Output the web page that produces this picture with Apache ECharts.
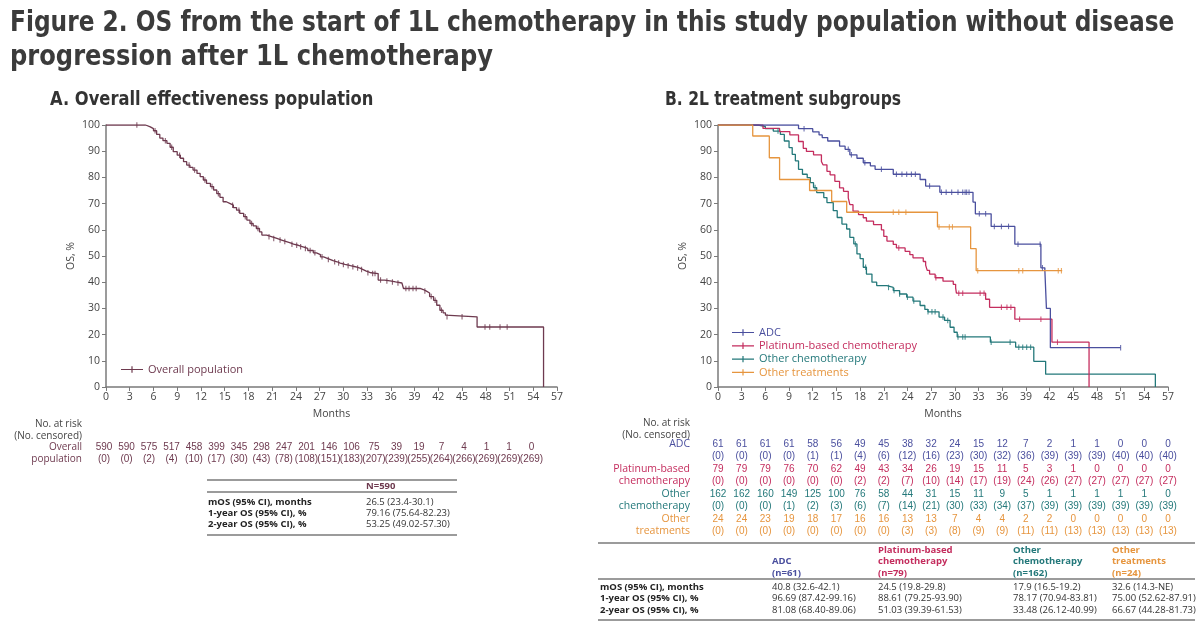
<!DOCTYPE html>
<html><head><meta charset="utf-8">
<script src="https://cdn.jsdelivr.net/npm/echarts@6/dist/echarts.min.js"></script>
<style>html,body{margin:0;padding:0;background:#fff}#c{width:1200px;height:637px}</style>
</head><body><div id="c"></div>
<script>
// ---------- DATA ----------
const monthTicks = [0,3,6,9,12,15,18,21,24,27,30,33,36,39,42,45,48,51,54,57];

// Overall population KM [month, OS%]
const overallKM = [[0,100],[5.0,99.3],[5.6,98.6],[6.0,97.8],[6.4,96.4],[6.8,95],[7.2,94],[7.7,93],[8.1,91.5],[8.5,89.8],[9.0,88.5],[9.4,87.3],[9.8,86],[10.2,84.7],[10.6,83.8],[11.0,82.8],[11.5,81.5],[11.9,80.3],[12.3,79],[12.7,77.7],[13.2,76.5],[13.6,75.2],[14.0,73.8],[14.4,72.4],[14.8,70.7],[15.2,70],[15.7,69.4],[16.1,68.5],[16.5,67.5],[16.9,66.3],[17.4,65],[17.8,63.7],[18.2,62.4],[18.6,61.5],[19.0,60.5],[19.4,59.2],[19.7,58],[20.3,57.3],[21.0,56.7],[21.6,56.1],[22.2,55.5],[22.8,55],[23.3,54.5],[23.7,54.1],[24.3,53.5],[24.9,52.9],[25.5,52.1],[26.2,51.2],[26.6,50.5],[27.1,49.7],[27.5,49.2],[27.9,48.7],[28.3,48.2],[28.7,47.8],[29.2,47.3],[29.6,46.8],[30.2,46.3],[30.9,45.9],[31.5,45.4],[32.1,44.8],[32.5,44.2],[32.9,43.6],[33.5,43.3],[34.4,40.8],[35.2,40.5],[35.9,40.1],[36.6,39.7],[37.4,39.2],[37.6,37.6],[39.7,37.2],[40.1,36.6],[40.5,35.9],[40.9,34.5],[41.4,33.1],[41.8,31.2],[42.2,29.3],[42.6,28.3],[42.9,27.4],[43.1,26.8],[46.9,22.9],[55.3,0]];
const overallCens = [3.9,6.2,7.5,8.3,9.3,10.5,11.2,12.5,13.4,14.2,16.0,16.8,17.6,18.4,19.2,20.6,21.2,22.0,22.6,23.5,24.1,24.6,25.2,25.8,26.4,27.3,28.1,28.9,29.4,30.0,30.6,31.2,31.8,32.3,33.1,33.7,34.0,34.7,35.5,36.2,36.9,37.9,38.3,38.8,39.2,40.3,41.1,41.6,42.4,43.1,45.0,47.9,48.5,49.8,50.7];

const adcKM = [[0,100],[10.2,98.6],[12.0,97.4],[12.8,96.2],[13.2,95.2],[13.9,93.9],[15.4,91.9],[16.1,90.7],[16.7,88.6],[17.6,87.3],[18.4,85.6],[19.3,84.4],[19.9,83.1],[22.2,81.2],[25.6,79.2],[26.3,76.7],[28.1,74.3],[32.3,70.6],[32.6,66.1],[34.6,61.3],[37.6,54.5],[40.9,45.5],[41.4,44.7],[41.6,30.0],[42.1,15.0],[51.0,15.0]];
const adcCens = [10.9,16.5,16.9,18.6,20.7,22.6,23.3,23.9,24.5,25.0,26.8,28.3,28.9,29.6,30.4,31.0,31.3,31.5,31.8,33.1,33.9,35.0,35.9,36.8,38.0,40.8,41.1,51.0];

const platKM = [[0,100],[5.7,98.7],[7.8,97.5],[9.1,96.2],[10.2,93.7],[10.8,91.1],[11.2,89.9],[12.1,88.6],[13.1,86.1],[13.3,84.8],[13.8,82.3],[14.2,81.0],[14.8,78.5],[15.4,76.0],[15.9,74.7],[16.5,72.2],[16.7,69.6],[17.1,67.1],[17.8,65.8],[18.4,64.6],[18.8,63.3],[19.7,62.0],[20.7,60.0],[21.0,57.5],[21.4,55.7],[22.2,54.4],[22.6,53.1],[23.7,51.8],[24.3,50.5],[24.7,49.3],[26.0,47.9],[26.3,46.5],[26.5,44.5],[26.8,43.1],[27.5,41.7],[28.5,40.4],[29.8,39.2],[30.1,37.8],[30.2,35.8],[33.9,33.5],[34.4,30.4],[37.6,25.9],[42.3,17.1],[47.0,0]];
const platCens = [22.9,27.6,30.5,31.0,33.2,33.7,35.9,36.6,37.1,38.2,40.9,43.0];

const othKM = [[0,100],[5.1,99.4],[6.0,98.6],[7.0,97.7],[7.9,96.4],[8.4,93.9],[9.0,91.4],[9.4,88.8],[9.8,86.3],[10.2,83.1],[10.7,81.2],[11.3,79.9],[11.7,78.0],[12.1,76.1],[12.5,74.2],[13.4,72.3],[13.8,70.4],[14.6,67.3],[15.1,64.7],[15.7,62.2],[16.3,60.3],[16.7,57.1],[17.2,54.6],[17.6,50.8],[18.0,49.0],[18.4,45.7],[18.8,43.1],[19.5,40.0],[20.1,38.7],[21.4,38.0],[22.2,36.8],[23.0,35.5],[23.9,34.3],[24.7,32.8],[25.6,31.1],[26.2,29.6],[26.6,28.7],[28.0,26.7],[28.7,25.4],[29.4,22.8],[29.9,20.9],[30.3,19.1],[34.5,17.1],[37.7,15.2],[40.0,9.8],[41.5,4.9],[55.4,0]];
const othCens = [7.6,12.3,17.4,18.7,21.6,22.3,23.0,24.0,24.8,26.6,27.1,27.5,28.5,29.1,30.4,31.0,31.3,34.6,37.0,38.1,38.6,39.1,39.6];

const othTKM = [[0,100],[4.4,95.8],[6.5,87.5],[7.8,79.2],[11.6,75.0],[14.4,70.8],[16.3,66.7],[27.8,61.1],[32.0,52.8],[32.7,44.4],[43.6,44.4]];
const othTCens = [22.2,22.9,23.8,28.0,29.3,29.7,32.9,38.1,38.6,43.1,43.5];

// at risk / censored
const overallRisk = [590,590,575,517,458,399,345,298,247,201,146,106,75,39,19,7,4,1,1,0];
const overallRiskC = [0,0,2,4,10,17,30,43,78,108,151,183,207,239,255,264,266,269,269,269];
const adcRisk = [61,61,61,61,58,56,49,45,38,32,24,15,12,7,2,1,1,0,0,0];
const adcRiskC = [0,0,0,0,1,1,4,6,12,16,23,30,32,36,39,39,39,40,40,40];
const platRisk = [79,79,79,76,70,62,49,43,34,26,19,15,11,5,3,1,0,0,0,0];
const platRiskC = [0,0,0,0,0,0,2,2,7,10,14,17,19,24,26,27,27,27,27,27];
const othRisk = [162,162,160,149,125,100,76,58,44,31,15,11,9,5,1,1,1,1,1,0];
const othRiskC = [0,0,0,1,2,3,6,7,14,21,30,33,34,37,39,39,39,39,39,39];
const othTRisk = [24,24,23,19,18,17,16,16,13,13,7,4,4,2,2,0,0,0,0,0];
const othTRiskC = [0,0,0,0,0,0,0,0,3,3,8,9,9,11,11,13,13,13,13,13];

// summary tables
const rowLabels = ['mOS (95% CI), months','1-year OS (95% CI), %','2-year OS (95% CI), %'];
const overallStats = ['26.5 (23.4-30.1)','79.16 (75.64-82.23)','53.25 (49.02-57.30)'];
const groupHeaders = ['ADC\n(n=61)','Platinum-based\nchemotherapy\n(n=79)','Other\nchemotherapy\n(n=162)','Other\ntreatments\n(n=24)'];
const adcStats = ['40.8 (32.6-42.1)','96.69 (87.42-99.16)','81.08 (68.40-89.06)'];
const platStats = ['24.5 (19.8-29.8)','88.61 (79.25-93.90)','51.03 (39.39-61.53)'];
const othStats = ['17.9 (16.5-19.2)','78.17 (70.94-83.81)','33.48 (26.12-40.99)'];
const othTStats = ['32.6 (14.3-NE)','75.00 (52.62-87.91)','66.67 (44.28-81.73)'];

// ---------- STYLE ----------
const C_OV = '#6e3a4f', C_ADC = '#4a4f9e', C_PLAT = '#c42d5e', C_OTH = '#23787a', C_OTT = '#e6953e';
const FONT = "'Open Sans', 'DejaVu Sans', sans-serif";
const NFONT = "'Liberation Sans', Arial, sans-serif";
const TFONT = "'DejaVu Sans Condensed', 'DejaVu Sans', sans-serif";
const AX = '#7a7a7a', TXT = '#444';

function survAt(km, t){ let s = km[0][1]; for (const p of km){ if (p[0] <= t) s = p[1]; else break; } return s; }
function cens(km, ts){ return ts.map(t => [t, survAt(km, t)]); }

const tickSym = 'path://M0,0H1V8H0Z';
function kmLine(name, km, color, xi){
  return {name, type:'line', step:'end', data:km, xAxisIndex:xi, yAxisIndex:xi, symbol:'none', showSymbol:false,
    lineStyle:{color, width:1.3}, itemStyle:{color}, silent:true, animation:false, z:3};
}
function kmCens(name, km, ts, color, xi){
  return {name, type:'scatter', data:cens(km, ts), xAxisIndex:xi, yAxisIndex:xi, symbol:tickSym, symbolSize:[1.1,5.5],
    itemStyle:{color}, silent:true, animation:false, z:4};
}

function axisX(gi){
  return {gridIndex:gi, type:'value', min:0, max:57, interval:3,
    axisLine:{show:true, lineStyle:{color:AX, width:1.5}}, axisTick:{show:true, length:4, lineStyle:{color:AX}},
    splitLine:{show:false}, axisLabel:{color:TXT, fontSize:10.5, fontFamily:FONT, margin:5},
    name:'Months', nameLocation:'middle', nameGap:22, nameTextStyle:{color:TXT, fontSize:10.5, fontFamily:FONT}};
}
function axisY(gi){
  return {gridIndex:gi, type:'value', min:0, max:100, interval:10,
    axisLine:{show:true, lineStyle:{color:AX, width:1.5}}, axisTick:{show:true, length:4, lineStyle:{color:AX}},
    splitLine:{show:false}, axisLabel:{color:TXT, fontSize:10.5, fontFamily:FONT, margin:6},
    name:'OS, %', nameLocation:'middle', nameGap:29, nameRotate:90, nameTextStyle:{color:TXT, fontSize:10.5, fontFamily:FONT}};
}

// ---------- GRAPHICS (text / tables) ----------
const G = [];
function T(x, y, text, o){
  o = o || {};
  const el = {type:'text', silent:true, x, y, style:{text, fill:o.color||TXT, font:o.font||('10px '+FONT),
    align:o.align||'left', textAlign:o.align||'left', verticalAlign:'middle', textVerticalAlign:'middle', lineHeight:o.lh||12}};
  if (o.sx) el.scaleX = o.sx;
  G.push(el);
}
function L(x1, y1, x2, y2, w){
  G.push({type:'line', silent:true, shape:{x1, y1, x2, y2}, style:{stroke:'#7a7a7a', lineWidth:w||1.3}});
}
// titles
T(10, 23, 'Figure 2. OS from the start of 1L chemotherapy in this study population without disease', {font:'bold 29px '+TFONT, color:'#3b3b3b', sx:0.893});
T(10, 57, 'progression after 1L chemotherapy', {font:'bold 29px '+TFONT, color:'#3b3b3b', sx:0.927});
T(50, 100, 'A. Overall effectiveness population', {font:'bold 19px '+TFONT, color:'#333', sx:0.955});
T(665, 100, 'B. 2L treatment subgroups', {font:'bold 19px '+TFONT, color:'#333', sx:0.91});

// left at-risk table
T(82, 424, 'No. at risk', {align:'right'});
T(82, 436, '(No. censored)', {align:'right'});
T(82, 447, 'Overall', {align:'right', color:C_OV});
T(82, 459, 'population', {align:'right', color:C_OV});
overallRisk.forEach((v,i)=>{ const x = 104 + i*22.5;
  T(x, 447, String(v), {align:'center', color:C_OV, font:'10px '+NFONT});
  T(x, 459, '('+overallRiskC[i]+')', {align:'center', color:C_OV, font:'10px '+NFONT}); });

// right at-risk table
const RX0 = 718, RSTEP = 450/57*3;
T(690, 423, 'No. at risk', {align:'right'});
T(690, 435, '(No. censored)', {align:'right'});
const rGroups = [
  [['ADC'], adcRisk, adcRiskC, C_ADC, 444],
  [['Platinum-based','chemotherapy'], platRisk, platRiskC, C_PLAT, 469],
  [['Other','chemotherapy'], othRisk, othRiskC, C_OTH, 494],
  [['Other','treatments'], othTRisk, othTRiskC, C_OTT, 519]];
rGroups.forEach(g=>{
  const y = g[4];
  g[0].forEach((s,k)=>T(690, y + k*12.5, s, {align:'right', color:g[3], font:'10.5px '+FONT}));
  g[1].forEach((v,i)=>{ const x = RX0 + i*RSTEP;
    T(x, y, String(v), {align:'center', color:g[3], font:'10px '+NFONT});
    T(x, y+12.5, '('+g[2][i]+')', {align:'center', color:g[3], font:'10px '+NFONT}); });
});

// left summary table
L(207, 480, 457, 480); L(207, 492, 457, 492); L(207, 535, 457, 535);
T(366, 486, 'N=590', {font:'bold 9.5px '+FONT, color:C_OV});
rowLabels.forEach((r,i)=>{ T(208, 502 + i*11.3, r, {font:'bold 9.5px '+FONT, color:'#222'}); T(366, 502 + i*11.3, overallStats[i], {font:'9.5px '+FONT, color:'#333'}); });

// right summary table
L(598, 543, 1195, 543); L(598, 579, 1195, 579); L(598, 620, 1195, 620);
const colX = [772, 878, 1013, 1112], colC = [C_ADC, C_PLAT, C_OTH, C_OTT];
const colStats = [adcStats, platStats, othStats, othTStats];
groupHeaders.forEach((h,j)=>{
  const n = h.split('\n').length;
  T(colX[j], 573 - (n-1)*11.5/2, h, {font:'bold 9.5px '+FONT, color:colC[j], lh:11.5});
});
rowLabels.forEach((r,i)=>{
  const y = 587 + i*11.5;
  T(600, y, r, {font:'bold 9.5px '+FONT, color:'#222'});
  colStats.forEach((s,j)=>T(colX[j], y, s[i], {font:'9.5px '+FONT, color:'#333'}));
});

// ---------- CHART ----------
const legIcon = 'path://M0,4.4H22V5.6H0ZM10.4,1.8H11.6V8.2H10.4Z';
const chart = echarts.init(document.getElementById('c'), null, {renderer:'canvas'});
chart.setOption({
  backgroundColor:'#fff', animation:false,
  grid:[{left:106, top:125, width:451, height:262}, {left:718, top:125, width:450, height:262}],
  xAxis:[axisX(0), axisX(1)],
  yAxis:[axisY(0), axisY(1)],
  legend:[
    {data:[{name:'Overall population', textStyle:{color:C_OV}}], left:116, top:359, icon:legIcon, itemWidth:22, itemHeight:8,
     textStyle:{fontSize:11, fontFamily:FONT}, selectedMode:false},
    {data:[{name:'ADC', textStyle:{color:C_ADC}},{name:'Platinum-based chemotherapy', textStyle:{color:C_PLAT}},
           {name:'Other chemotherapy', textStyle:{color:C_OTH}},{name:'Other treatments', textStyle:{color:C_OTT}}],
     orient:'vertical', left:727, top:322, itemGap:2.3, icon:legIcon, itemWidth:22, itemHeight:11,
     textStyle:{fontSize:11, fontFamily:FONT}, selectedMode:false}
  ],
  series:[
    kmLine('Overall population', overallKM, C_OV, 0),
    kmCens('Overall censored', overallKM, overallCens, C_OV, 0),
    kmLine('Other chemotherapy', othKM, C_OTH, 1),
    kmCens('Other chemotherapy censored', othKM, othCens, C_OTH, 1),
    kmLine('Platinum-based chemotherapy', platKM, C_PLAT, 1),
    kmCens('Platinum censored', platKM, platCens, C_PLAT, 1),
    kmLine('ADC', adcKM, C_ADC, 1),
    kmCens('ADC censored', adcKM, adcCens, C_ADC, 1),
    kmLine('Other treatments', othTKM, C_OTT, 1),
    kmCens('Other treatments censored', othTKM, othTCens, C_OTT, 1)
  ],
  graphic:{elements:G}
});
</script></body></html>
